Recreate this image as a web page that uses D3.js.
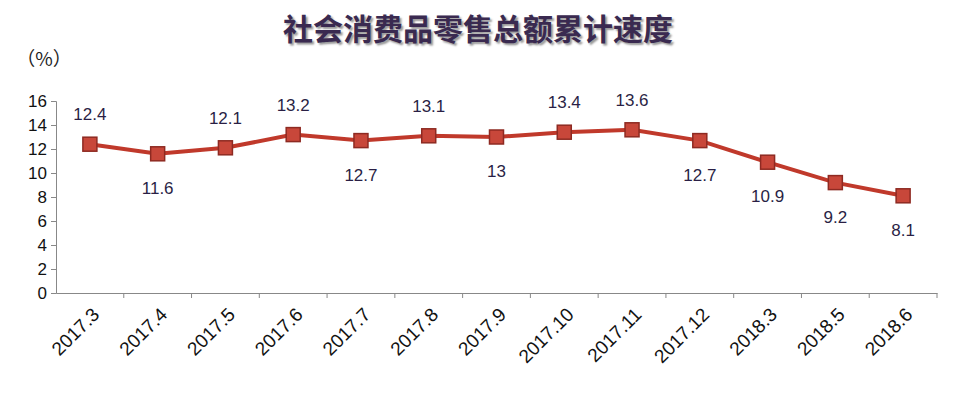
<!DOCTYPE html>
<html><head><meta charset="utf-8">
<script src="https://cdn.jsdelivr.net/npm/d3@7/dist/d3.min.js"></script>
<style>body{margin:0;background:#fff}svg{display:block}</style>
</head><body>
<svg id="c" width="960" height="404"></svg>
<script>
const categories=["2017.3","2017.4","2017.5","2017.6","2017.7","2017.8","2017.9","2017.10","2017.11","2017.12","2018.3","2018.5","2018.6"];
const values=[12.4,11.6,12.1,13.2,12.7,13.1,13,13.4,13.6,12.7,10.9,9.2,8.1];
const labelSide=["up","down","up","up","down","up","down","up","up","down","down","down","down"];
const yTicks=[0,2,4,6,8,10,12,14,16];
const title="社会消费品零售总额累计速度";
const unit="（%）";

const svg=d3.select("#c");
const x=d3.scaleBand().domain(categories).range([56,937]);
const y=d3.scaleLinear().domain([0,16]).range([293,101]);
const font="'Noto Sans CJK SC','DejaVu Sans',sans-serif";

svg.append("text").attr("x",478).attr("y",40).attr("text-anchor","middle")
 .attr("font-family",font).attr("font-size",30).attr("font-weight","bold")
 .attr("fill","#3a2a50").attr("style","text-shadow:2px 2px 2px #999").text(title);
svg.append("text").attr("x",44).attr("y",66).attr("text-anchor","middle")
 .attr("font-family",font).attr("font-size",19).attr("fill","#222").text(unit);

const ya=svg.append("g").attr("transform","translate(56,0)")
 .call(d3.axisLeft(y).tickValues(yTicks).tickSize(5).tickPadding(4));
ya.selectAll("text").attr("font-family","Arial,'Liberation Sans'").attr("font-size",17).attr("fill","#111");
ya.selectAll("path,line").attr("stroke","#888");

const xa=svg.append("g").attr("transform","translate(0,293)")
 .call(d3.axisBottom(x).tickSize(0).tickPadding(0));
xa.select("path").attr("stroke","#888");
xa.selectAll("text").attr("font-family","Arial,'Liberation Sans'").attr("font-size",19).attr("fill","#111")
 .attr("text-anchor","end").attr("dy","0.35em").attr("y",0).attr("transform","translate(6,18) rotate(-45)");
svg.append("g").selectAll("line").data(categories.slice(1).concat(["_"])).enter().append("line")
 .attr("x1",(d,i)=>56+(i+1)*x.step()).attr("x2",(d,i)=>56+(i+1)*x.step())
 .attr("y1",293).attr("y2",298).attr("stroke","#888");

const cx=d=>x(d)+x.bandwidth()/2;
svg.append("path").datum(values).attr("fill","none").attr("stroke","#c0392b").attr("stroke-width",4)
 .attr("d",d3.line().x((d,i)=>cx(categories[i])).y(d=>y(d)));
svg.selectAll("rect.m").data(values).enter().append("rect")
 .attr("x",(d,i)=>cx(categories[i])-7).attr("y",d=>y(d)-7).attr("width",14).attr("height",14)
 .attr("fill","#c8473a").attr("stroke","#8e2a22").attr("stroke-width",1.5);
svg.selectAll("text.v").data(values).enter().append("text")
 .attr("x",(d,i)=>cx(categories[i])).attr("y",(d,i)=>labelSide[i]==="up"?y(d)-24:y(d)+40)
 .attr("text-anchor","middle").attr("font-family","Arial,'Liberation Sans'").attr("font-size",17)
 .attr("fill","#2a1f45").text(d=>d);
</script>
</body></html>
